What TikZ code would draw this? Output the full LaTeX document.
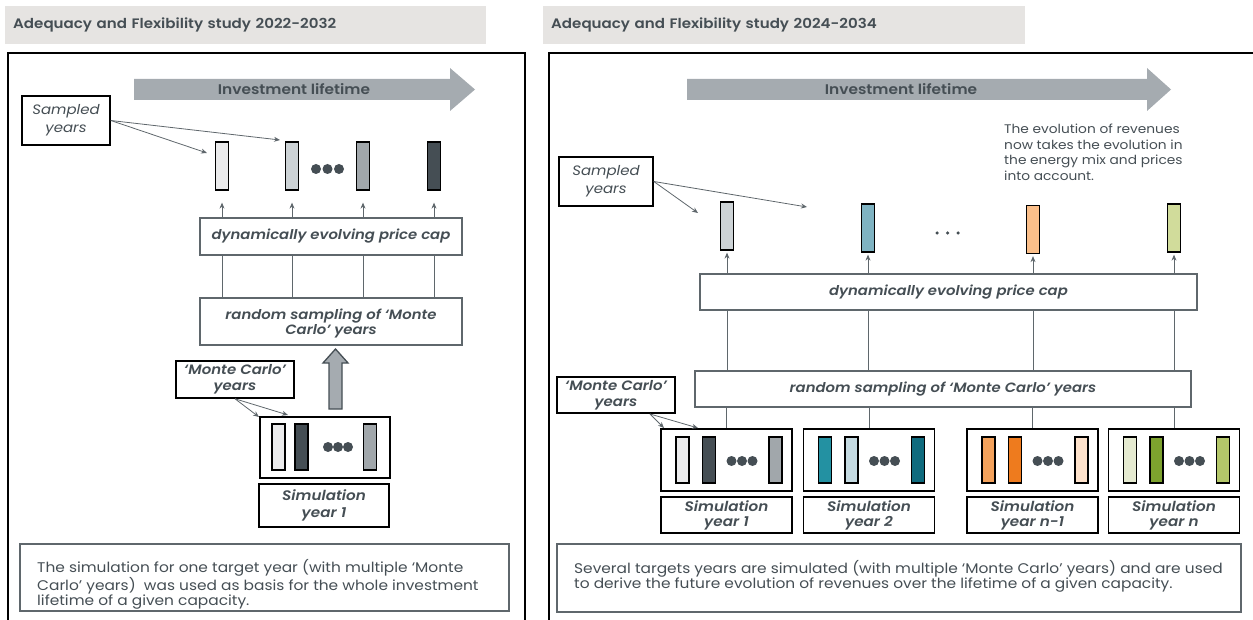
\documentclass[tikz,border=0pt]{standalone}
\usepackage{fontspec}
\setmainfont{Poppins}[FakeStretch=1.1, BoldFont={Poppins SemiBold}, BoldItalicFont={Poppins SemiBold Italic}]
\usetikzlibrary{arrows.meta}
\definecolor{titlebg}{HTML}{E6E4E2}
\definecolor{arrowgray}{HTML}{A5ABB0}
\definecolor{textc}{HTML}{454E54}
\definecolor{linec}{HTML}{5F676C}
\definecolor{gA}{HTML}{EBEBEC}
\definecolor{gB}{HTML}{CDD3D6}
\definecolor{gC}{HTML}{A1A7AB}
\definecolor{gD}{HTML}{454E54}
\definecolor{tA}{HTML}{7FB3C2}
\definecolor{tB}{HTML}{2391A2}
\definecolor{tC}{HTML}{C4DAE1}
\definecolor{tD}{HTML}{0F6B7E}
\definecolor{oA}{HTML}{FBBF8A}
\definecolor{oB}{HTML}{F4A25C}
\definecolor{oC}{HTML}{EE7B1E}
\definecolor{oD}{HTML}{FEE2CB}
\definecolor{lA}{HTML}{D1DC9B}
\definecolor{lB}{HTML}{E5EAD0}
\definecolor{lC}{HTML}{7DA22E}
\definecolor{lD}{HTML}{B4C76A}
\begin{document}
\begin{tikzpicture}[x=1pt,y=-1pt,
  titlebar/.style={fill=titlebg, anchor=north west, minimum height=38pt, inner xsep=8pt, align=left, text=textc, font=\bfseries\fontsize{13.7}{16}\selectfont},
  frame/.style={draw=black, line width=2pt},
  bigarrow/.style={fill=arrowgray, draw=none},
  biglabel/.style={text=textc, font=\bfseries\fontsize{14}{16}\selectfont},
  blackbox/.style={draw=black, line width=1.6pt, fill=white, align=center, inner sep=0pt, text=textc},
  graybox/.style={draw=linec, line width=1.3pt, align=center, inner sep=0pt, text=textc, font=\bfseries\itshape\fontsize{13.5}{15}\selectfont},
  samp/.style={font=\itshape\fontsize{13.6}{18}\selectfont},
  mcf/.style={font=\bfseries\itshape\fontsize{13.6}{16}\selectfont},
  simf/.style={font=\bfseries\itshape\fontsize{13.8}{17}\selectfont},
  bar/.style={draw=black, line width=1.3pt, minimum width=13pt, minimum height=46pt, inner sep=0pt},
  conn/.style={draw=linec, line width=0.8pt, -{Stealth[length=6pt,width=5pt]}},
  vline/.style={draw=linec, line width=0.8pt},
  bdot/.style={circle, fill=textc, minimum size=10pt, inner sep=0pt},
  sdot/.style={circle, fill=textc, minimum size=3.5pt, inner sep=0pt},
  body/.style={align=left, text=textc, inner sep=0pt, font=\fontsize{14}{15}\selectfont}
]
\useasboundingbox (0,0) rectangle (1253,620);
\clip (0,0) rectangle (1253,620);

% ================= LEFT PANEL =================
\node[titlebar, text width=465pt] (tl) at (5,6) {Adequacy and Flexibility study 2022-2032};
\draw[frame] (8,53) rectangle (525,660);

\path[bigarrow] (134,79) -- (450,79) -- (450,68) -- (475,89.5) -- (450,111) -- (450,100) -- (134,100) -- cycle;
\node[biglabel] (ill) at (294,89.5) {Investment lifetime};

\node[blackbox, samp, minimum width=88pt, minimum height=49pt] (sl) at (66,120.5) {Sampled\\years};

\node[bar, fill=gA, minimum height=48pt] (lb1) at (222,166) {};
\node[bar, fill=gB, minimum height=48pt] (lb2) at (292,166) {};
\node[bar, fill=gC, minimum height=48pt] (lb3) at (363,166) {};
\node[bar, fill=gD, minimum height=48pt] (lb4) at (434,166) {};
\node[bdot] (ld1) at (316,169) {};
\node[bdot] (ld2) at (327.5,169) {};
\node[bdot] (ld3) at (339,169) {};

\coordinate (lsa) at (207,153);
\coordinate (lsb) at (280,140);
\draw[conn] (sl.east) -- (lsa);
\draw[conn] (sl.east) -- (lsb);

\node[graybox, minimum width=262pt, minimum height=37pt] (lpc) at (331,236.5) {dynamically evolving price cap};
\node[graybox, minimum width=262pt, minimum height=47pt, text depth=-2pt] (lrs) at (331,321.5) {random sampling of ‘Monte\\Carlo’ years};

\foreach \b in {lb1,lb2,lb3,lb4}{
  \draw[conn, shorten >=12pt] (lpc.north -| \b) -- (\b.south);
  \draw[vline] (lrs.north -| \b) -- (lpc.south -| \b);
}

\node[blackbox, mcf, minimum width=118pt, minimum height=37pt] (lmc) at (235,379.5) {‘Monte Carlo’\\years};

\node[blackbox, minimum width=130pt, minimum height=61pt] (lsim) at (325,447.5) {};
\node[bar, fill=gA] (ls1) at (278.5,447) {};
\node[bar, fill=gD] (ls2) at (301.5,447) {};
\node[bar, fill=gC] (ls3) at (370,447) {};
\node[bdot] (lsd1) at (328,447) {};
\node[bdot] (lsd2) at (338,447) {};
\node[bdot] (lsd3) at (348,447) {};

\path[draw=textc, line width=1.3pt, fill=arrowgray] (329,409) -- (329,363) -- (323,363) -- (335.5,349) -- (348,363) -- (342,363) -- (342,409) -- cycle;

\coordinate (lma) at (259,417);
\coordinate (lmb) at (288,415);
\draw[conn] (lmc.south) -- (lma);
\draw[conn] (lmc.south) -- (lmb);

\node[blackbox, simf, minimum width=130pt, minimum height=43pt] (lsl) at (324,505.5) {Simulation\\year 1};

\node[draw=linec, line width=1.3pt, minimum width=489pt, minimum height=67pt, inner sep=0pt] (lbt) at (264.5,577.5) {};
\node[body, anchor=west] (lbtx) at (37,584) {The simulation for one target year (with multiple ‘Monte\\Carlo’ years)\ \ was used as basis for the whole investment\\lifetime of a given capacity.};

% ================= RIGHT PANEL =================
\node[titlebar, text width=466pt] (tr) at (543,6) {Adequacy and Flexibility study 2024-2034};
\draw[frame] (549,53) rectangle (1275,660);

\path[bigarrow] (687,79) -- (1147,79) -- (1147,68) -- (1171,89.5) -- (1147,111) -- (1147,100) -- (687,100) -- cycle;
\node[biglabel] (irl) at (901,89.5) {Investment lifetime};

\node[body, anchor=north west, font=\fontsize{12.5}{15.5}\selectfont] (evo) at (1004,124) {The evolution of revenues\\now takes the evolution in\\the energy mix and prices\\into account.};

\node[blackbox, samp, minimum width=94pt, minimum height=49pt] (sr) at (606,181.5) {Sampled\\years};

\node[bar, fill=gB, minimum height=48pt] (rb1) at (727,226) {};
\node[bar, fill=tA, minimum height=48pt] (rb2) at (868,228) {};
\node[bar, fill=oA, minimum height=48pt] (rb3) at (1033,229.5) {};
\node[bar, fill=lA, minimum height=48pt] (rb4) at (1174,228) {};
\node[sdot] (rd1) at (937,233) {};
\node[sdot] (rd2) at (947.5,233) {};
\node[sdot] (rd3) at (958,233) {};

\coordinate (rsa) at (698,213);
\coordinate (rsb) at (807,207);
\draw[conn] (sr.east) -- (rsa);
\draw[conn] (sr.east) -- (rsb);

\node[graybox, minimum width=497pt, minimum height=36pt] (rpc) at (948.5,292) {dynamically evolving price cap};
\node[graybox, minimum width=496pt, minimum height=36pt] (rrs) at (943,389) {random sampling of ‘Monte Carlo’ years};

\node[blackbox, mcf, minimum width=118pt, minimum height=36pt] (rmc) at (616,395) {‘Monte Carlo’\\years};

% simulation boxes
\foreach \i/\cx/\ca/\cb/\cc/\lab in {1/726.5/gA/gD/gC/year 1, 2/869/tB/tC/tD/year 2, 3/1032.5/oB/oC/oD/year n-1, 4/1174/lB/lC/lD/year n}{
  \node[blackbox, minimum width=131pt, minimum height=62pt] (rsim\i) at (\cx,460) {};
  \node[bar, fill=\ca] (rs\i a) at ([xshift=-44pt]rsim\i.center) {};
  \node[bar, fill=\cb] (rs\i b) at ([xshift=-17.5pt]rsim\i.center) {};
  \node[bar, fill=\cc] (rs\i c) at ([xshift=49pt]rsim\i.center) {};
  \node[bdot] (rs\i d1) at ([xshift=5pt,yshift=-1pt]rsim\i.center) {};
  \node[bdot] (rs\i d2) at ([xshift=15.5pt,yshift=-1pt]rsim\i.center) {};
  \node[bdot] (rs\i d3) at ([xshift=26pt,yshift=-1pt]rsim\i.center) {};
  \node[blackbox, simf, font=\bfseries\itshape\fontsize{13.8}{15}\selectfont, minimum width=131pt, minimum height=36pt] (rsl\i) at (\cx,515) {Simulation\\\lab};
}

\foreach \b/\s in {rb1/rsim1,rb2/rsim2,rb3/rsim3,rb4/rsim4}{
  \draw[conn, shorten >=2pt] (rpc.north -| \b) -- (\b.south);
  \draw[vline] (rrs.north -| \b) -- (rpc.south -| \b);
  \draw[vline] (\s.north) -- (rrs.south -| \s);
}

\coordinate (rms) at (650,414);
\coordinate (rma) at (664,428);
\coordinate (rmb) at (698,428);
\draw[conn] (rms) -- (rma);
\draw[conn] (rms) -- (rmb);

\node[draw=linec, line width=1.3pt, minimum width=684pt, minimum height=68pt, inner sep=0pt] (rbt) at (899,578) {};
\node[body, anchor=west] (rbtx) at (574,576) {Several targets years are simulated (with multiple ‘Monte Carlo’ years) and are used\\to derive the future evolution of revenues over the lifetime of a given capacity.};
\end{tikzpicture}
\end{document}
